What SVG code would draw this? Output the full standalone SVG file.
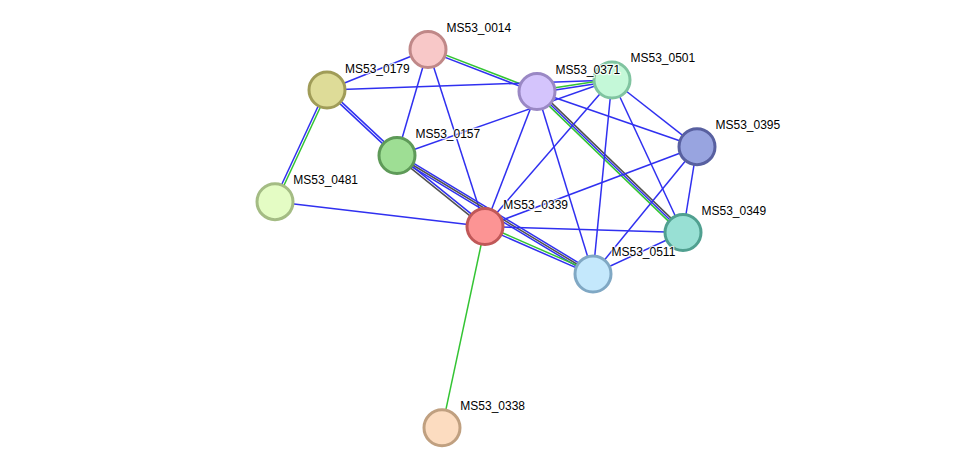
<svg xmlns="http://www.w3.org/2000/svg" width="976" height="473" viewBox="0 0 976 473">
<style>
.b{stroke:#3030f0;stroke-width:1.5;fill:none}
.g{stroke:#33c433;stroke-width:1.5;fill:none}
.k{stroke:#505050;stroke-width:1.5;fill:none}
.n{stroke-width:3}
.t{font-family:"Liberation Sans",Arial,sans-serif;font-size:12px;fill:#000;stroke:#fff;stroke-width:2.5;stroke-opacity:0.8;paint-order:stroke;stroke-linejoin:round}
</style>
<rect width="976" height="473" fill="#fff"/>
<g id="edges">
<line class="b" x1="428" y1="49.5" x2="327" y2="90"/>
<line class="b" x1="428" y1="49.5" x2="397" y2="155.5"/>
<line class="b" x1="428" y1="49.5" x2="485" y2="226.5"/>
<line class="g" x1="428.4" y1="48.4" x2="537.4" y2="90.4"/>
<line class="b" x1="427.6" y1="50.6" x2="536.6" y2="92.6"/>
<line class="b" x1="327" y1="90" x2="612" y2="80"/>
<line class="b" x1="326.2" y1="90.9" x2="396.2" y2="156.4"/>
<line class="b" x1="327.8" y1="89.1" x2="397.8" y2="154.6"/>
<line class="b" x1="325.9" y1="89.5" x2="273.9" y2="201.2"/>
<line class="g" x1="328.1" y1="90.5" x2="276.1" y2="202.2"/>
<line class="b" x1="397" y1="155.5" x2="612" y2="80"/>
<line class="b" x1="397.75" y1="154.57" x2="485.75" y2="225.57"/>
<line class="k" x1="396.25" y1="156.43" x2="484.25" y2="227.43"/>
<line class="b" x1="398" y1="153.8" x2="594.3" y2="272.3"/>
<line class="k" x1="397" y1="155.5" x2="593.3" y2="274"/>
<line class="b" x1="396" y1="157.2" x2="592.3" y2="275.7"/>
<line class="b" x1="275" y1="201.7" x2="485" y2="226.5"/>
<line class="g" x1="537" y1="90.5" x2="612" y2="79"/>
<line class="b" x1="537.3" y1="92.8" x2="612.3" y2="81.3"/>
<line class="b" x1="537" y1="91.5" x2="697" y2="146.7"/>
<line class="b" x1="537" y1="91.5" x2="485" y2="226.5"/>
<line class="b" x1="537" y1="91.5" x2="593" y2="274"/>
<line class="k" x1="538.4" y1="90.1" x2="684.4" y2="231.1"/>
<line class="b" x1="537" y1="91.5" x2="683" y2="232.5"/>
<line class="g" x1="535.6" y1="92.9" x2="681.6" y2="233.9"/>
<line class="b" x1="612" y1="80" x2="485" y2="226.5"/>
<line class="b" x1="612" y1="80" x2="593" y2="274"/>
<line class="b" x1="612" y1="80" x2="697" y2="146.7"/>
<line class="b" x1="612" y1="80" x2="683" y2="232.5"/>
<line class="b" x1="697" y1="146.7" x2="485" y2="226.5"/>
<line class="b" x1="697" y1="146.7" x2="683" y2="232.5"/>
<line class="b" x1="697" y1="146.7" x2="593" y2="274"/>
<line class="b" x1="485" y1="226.5" x2="683" y2="232.5"/>
<line class="g" x1="485.5" y1="225.4" x2="594" y2="272.9"/>
<line class="b" x1="484.5" y1="227.6" x2="593" y2="275.1"/>
<line class="b" x1="683" y1="232.5" x2="593" y2="274"/>
<line class="g" x1="485" y1="226.5" x2="442" y2="427.8"/>
</g>
<g id="MS53_0014"><circle class="n" cx="428" cy="49.5" r="18" fill="#f8c8c8" stroke="#c08888"/><text class="t" x="446.5" y="32">MS53_0014</text></g>
<g id="MS53_0179"><circle class="n" cx="327" cy="90" r="18" fill="#dedc98" stroke="#a09c58"/><text class="t" x="345" y="72.5">MS53_0179</text></g>
<g id="MS53_0501"><circle class="n" cx="612" cy="80" r="18" fill="#c4f8d8" stroke="#80c4a0"/><text class="t" x="630.5" y="62">MS53_0501</text></g>
<g id="MS53_0371"><circle class="n" cx="537" cy="91.5" r="18" fill="#d4c4fc" stroke="#9a88c4"/><text class="t" x="555.5" y="74">MS53_0371</text></g>
<g id="MS53_0157"><circle class="n" cx="397" cy="155.5" r="18" fill="#9ede94" stroke="#5e9a58"/><text class="t" x="415.5" y="138.3">MS53_0157</text></g>
<g id="MS53_0481"><circle class="n" cx="275" cy="201.7" r="18" fill="#e4fcc4" stroke="#a4bc84"/><text class="t" x="293.3" y="184.3">MS53_0481</text></g>
<g id="MS53_0395"><circle class="n" cx="697" cy="146.7" r="18" fill="#98a4e0" stroke="#5860a0"/><text class="t" x="715.5" y="129">MS53_0395</text></g>
<g id="MS53_0339"><circle class="n" cx="485" cy="226.5" r="18" fill="#fc9494" stroke="#c05858"/><text class="t" x="503.3" y="209.3">MS53_0339</text></g>
<g id="MS53_0349"><circle class="n" cx="683" cy="232.5" r="18" fill="#98e0d4" stroke="#50a090"/><text class="t" x="701.5" y="215">MS53_0349</text></g>
<g id="MS53_0511"><circle class="n" cx="593" cy="274" r="18" fill="#c4e8fc" stroke="#80a8c4"/><text class="t" x="611.5" y="255.7">MS53_0511</text></g>
<g id="MS53_0338"><circle class="n" cx="442" cy="427.8" r="18" fill="#fcdcc0" stroke="#c0a080"/><text class="t" x="460.3" y="410">MS53_0338</text></g>
</svg>
